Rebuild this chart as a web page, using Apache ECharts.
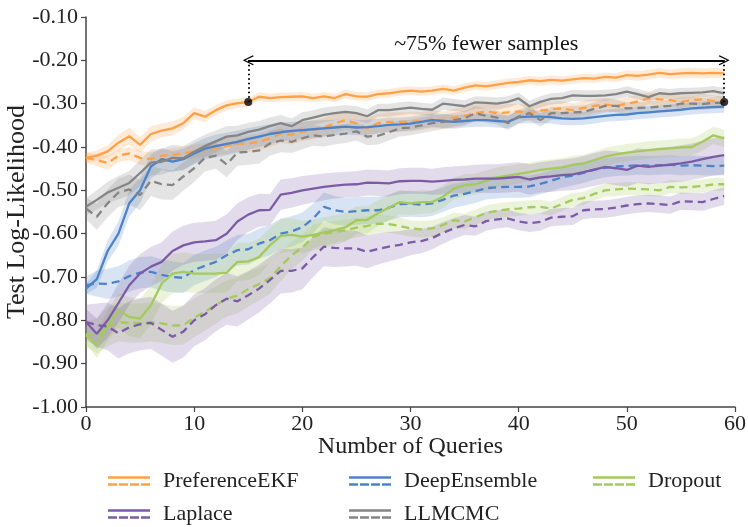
<!DOCTYPE html>
<html>
<head>
<meta charset="utf-8">
<script src="https://cdn.jsdelivr.net/npm/echarts@6/dist/echarts.min.js"></script>
<style>
  html, body { margin: 0; padding: 0; background: #ffffff; }
  #chart { width: 748px; height: 527px; }
</style>
</head>
<body>
<div id="chart"></div>
<script>
// Number of preference queries (x positions of every curve)
const queries = Array.from({ length: 60 }, (_, i) => i);

// Y axis ticks
const yMin = -1.0;
const yMax = -0.1;
const yStep = 0.1;

// Mean test log-likelihood per method (solid = first variant, dashed = second variant)
const prefEkf = [-0.425,-0.420,-0.410,-0.390,-0.375,-0.395,-0.370,-0.362,-0.357,-0.345,-0.322,-0.330,-0.315,-0.304,-0.299,-0.296,-0.284,-0.287,-0.285,-0.284,-0.283,-0.287,-0.283,-0.287,-0.278,-0.283,-0.284,-0.278,-0.276,-0.272,-0.270,-0.272,-0.270,-0.266,-0.270,-0.263,-0.258,-0.260,-0.256,-0.252,-0.250,-0.246,-0.248,-0.245,-0.247,-0.244,-0.241,-0.242,-0.238,-0.240,-0.234,-0.236,-0.233,-0.229,-0.232,-0.230,-0.229,-0.230,-0.229,-0.230];
const prefEkfB = [-0.425,-0.430,-0.437,-0.420,-0.415,-0.425,-0.428,-0.420,-0.418,-0.414,-0.410,-0.407,-0.402,-0.398,-0.393,-0.392,-0.388,-0.380,-0.370,-0.372,-0.365,-0.360,-0.355,-0.345,-0.338,-0.345,-0.357,-0.345,-0.342,-0.342,-0.342,-0.340,-0.336,-0.338,-0.332,-0.328,-0.322,-0.318,-0.322,-0.320,-0.318,-0.322,-0.316,-0.313,-0.311,-0.315,-0.310,-0.305,-0.302,-0.305,-0.300,-0.295,-0.288,-0.290,-0.292,-0.296,-0.292,-0.290,-0.294,-0.296];
const deepEns = [-0.727,-0.705,-0.640,-0.600,-0.530,-0.500,-0.445,-0.428,-0.434,-0.428,-0.415,-0.404,-0.398,-0.393,-0.388,-0.381,-0.376,-0.370,-0.366,-0.363,-0.361,-0.359,-0.357,-0.355,-0.353,-0.355,-0.354,-0.352,-0.349,-0.348,-0.346,-0.342,-0.338,-0.340,-0.342,-0.340,-0.338,-0.338,-0.340,-0.342,-0.331,-0.330,-0.330,-0.331,-0.334,-0.335,-0.334,-0.331,-0.328,-0.326,-0.325,-0.322,-0.320,-0.318,-0.316,-0.314,-0.311,-0.309,-0.308,-0.307];
const deepEnsB = [-0.719,-0.715,-0.716,-0.710,-0.698,-0.690,-0.688,-0.695,-0.700,-0.702,-0.684,-0.674,-0.665,-0.650,-0.638,-0.636,-0.623,-0.615,-0.600,-0.595,-0.585,-0.565,-0.538,-0.546,-0.550,-0.548,-0.546,-0.546,-0.540,-0.532,-0.531,-0.533,-0.530,-0.522,-0.512,-0.508,-0.502,-0.495,-0.493,-0.492,-0.492,-0.491,-0.485,-0.478,-0.470,-0.466,-0.460,-0.452,-0.448,-0.445,-0.444,-0.442,-0.443,-0.442,-0.441,-0.443,-0.442,-0.443,-0.444,-0.443];
const dropout = [-0.834,-0.857,-0.812,-0.777,-0.792,-0.796,-0.765,-0.715,-0.692,-0.688,-0.692,-0.692,-0.692,-0.690,-0.665,-0.664,-0.654,-0.627,-0.605,-0.603,-0.607,-0.603,-0.597,-0.592,-0.585,-0.569,-0.568,-0.553,-0.540,-0.527,-0.530,-0.527,-0.527,-0.515,-0.496,-0.488,-0.486,-0.478,-0.470,-0.466,-0.462,-0.458,-0.453,-0.450,-0.447,-0.441,-0.438,-0.430,-0.422,-0.417,-0.413,-0.410,-0.407,-0.405,-0.403,-0.401,-0.400,-0.388,-0.373,-0.380];
const dropoutB = [-0.832,-0.836,-0.815,-0.804,-0.806,-0.806,-0.804,-0.807,-0.812,-0.811,-0.794,-0.780,-0.765,-0.750,-0.743,-0.728,-0.716,-0.703,-0.675,-0.650,-0.632,-0.607,-0.600,-0.596,-0.592,-0.586,-0.582,-0.577,-0.578,-0.582,-0.588,-0.590,-0.588,-0.580,-0.569,-0.572,-0.562,-0.552,-0.547,-0.544,-0.542,-0.539,-0.538,-0.542,-0.532,-0.522,-0.518,-0.508,-0.500,-0.498,-0.496,-0.497,-0.498,-0.500,-0.492,-0.493,-0.492,-0.490,-0.486,-0.486];
const laplace = [-0.804,-0.831,-0.800,-0.760,-0.719,-0.692,-0.676,-0.665,-0.640,-0.627,-0.620,-0.618,-0.615,-0.600,-0.572,-0.556,-0.546,-0.545,-0.510,-0.506,-0.500,-0.496,-0.492,-0.489,-0.487,-0.486,-0.482,-0.483,-0.484,-0.479,-0.478,-0.478,-0.480,-0.478,-0.476,-0.475,-0.473,-0.473,-0.473,-0.471,-0.469,-0.475,-0.470,-0.468,-0.465,-0.463,-0.458,-0.452,-0.446,-0.449,-0.453,-0.443,-0.446,-0.443,-0.441,-0.438,-0.434,-0.428,-0.423,-0.419];
const laplaceB = [-0.804,-0.811,-0.814,-0.830,-0.816,-0.809,-0.806,-0.822,-0.838,-0.826,-0.800,-0.786,-0.765,-0.750,-0.756,-0.742,-0.727,-0.707,-0.686,-0.686,-0.680,-0.654,-0.630,-0.633,-0.634,-0.634,-0.642,-0.635,-0.630,-0.626,-0.620,-0.617,-0.610,-0.598,-0.588,-0.580,-0.583,-0.571,-0.567,-0.565,-0.572,-0.576,-0.573,-0.563,-0.561,-0.560,-0.546,-0.544,-0.543,-0.540,-0.535,-0.532,-0.530,-0.532,-0.534,-0.525,-0.526,-0.527,-0.520,-0.513];
const llmcmc = [-0.538,-0.522,-0.505,-0.494,-0.483,-0.460,-0.436,-0.434,-0.425,-0.426,-0.411,-0.398,-0.387,-0.376,-0.373,-0.365,-0.360,-0.352,-0.345,-0.352,-0.338,-0.332,-0.326,-0.322,-0.319,-0.322,-0.329,-0.315,-0.315,-0.312,-0.309,-0.312,-0.314,-0.300,-0.303,-0.306,-0.297,-0.298,-0.300,-0.296,-0.288,-0.306,-0.296,-0.289,-0.287,-0.281,-0.282,-0.282,-0.281,-0.278,-0.272,-0.278,-0.285,-0.276,-0.278,-0.276,-0.275,-0.274,-0.271,-0.276];
const llmcmcB = [-0.542,-0.561,-0.530,-0.505,-0.498,-0.511,-0.478,-0.486,-0.488,-0.468,-0.449,-0.425,-0.420,-0.440,-0.413,-0.411,-0.408,-0.392,-0.385,-0.388,-0.380,-0.373,-0.376,-0.372,-0.369,-0.364,-0.376,-0.374,-0.366,-0.357,-0.355,-0.350,-0.345,-0.342,-0.338,-0.334,-0.322,-0.328,-0.332,-0.345,-0.330,-0.322,-0.338,-0.322,-0.322,-0.320,-0.319,-0.312,-0.305,-0.305,-0.311,-0.310,-0.309,-0.307,-0.305,-0.300,-0.300,-0.301,-0.298,-0.298];

// Half-width of the shaded uncertainty band around each mean curve
const prefEkfSd = [0.012,0.012,0.014,0.018,0.020,0.018,0.018,0.016,0.016,0.015,0.014,0.013,0.012,0.012,0.011,0.011,0.010,0.010,0.010,0.010,0.010,0.010,0.010,0.010,0.010,0.010,0.010,0.010,0.010,0.010,0.010,0.010,0.010,0.010,0.010,0.010,0.010,0.010,0.010,0.010,0.010,0.010,0.010,0.010,0.010,0.010,0.010,0.010,0.010,0.010,0.011,0.011,0.011,0.011,0.011,0.012,0.012,0.012,0.012,0.012];
const prefEkfBSd = [0.012,0.014,0.016,0.015,0.015,0.016,0.016,0.015,0.015,0.015,0.016,0.016,0.017,0.018,0.018,0.019,0.020,0.020,0.021,0.022,0.022,0.022,0.022,0.022,0.022,0.024,0.024,0.022,0.022,0.022,0.022,0.021,0.021,0.020,0.020,0.020,0.020,0.019,0.019,0.019,0.018,0.018,0.018,0.017,0.017,0.016,0.016,0.016,0.015,0.015,0.015,0.015,0.014,0.014,0.014,0.014,0.013,0.013,0.013,0.013];
const deepEnsSd = [0.012,0.020,0.025,0.028,0.030,0.030,0.028,0.025,0.024,0.024,0.024,0.025,0.026,0.026,0.026,0.025,0.024,0.023,0.022,0.021,0.020,0.020,0.019,0.018,0.018,0.018,0.017,0.017,0.017,0.016,0.016,0.016,0.016,0.016,0.016,0.015,0.015,0.015,0.015,0.015,0.015,0.015,0.015,0.015,0.015,0.015,0.015,0.015,0.014,0.014,0.014,0.014,0.014,0.014,0.014,0.014,0.014,0.014,0.014,0.014];
const deepEnsBSd = [0.020,0.030,0.035,0.035,0.036,0.036,0.036,0.036,0.036,0.035,0.035,0.035,0.035,0.035,0.035,0.035,0.035,0.035,0.035,0.035,0.034,0.034,0.033,0.033,0.032,0.032,0.031,0.031,0.030,0.030,0.030,0.029,0.029,0.028,0.028,0.027,0.027,0.026,0.026,0.025,0.025,0.025,0.024,0.024,0.024,0.023,0.023,0.023,0.022,0.022,0.022,0.022,0.022,0.022,0.022,0.022,0.022,0.022,0.022,0.022];
const dropoutSd = [0.020,0.030,0.035,0.040,0.045,0.045,0.045,0.045,0.045,0.045,0.045,0.045,0.045,0.045,0.044,0.043,0.042,0.040,0.039,0.038,0.037,0.036,0.035,0.034,0.033,0.032,0.031,0.030,0.029,0.028,0.027,0.027,0.026,0.026,0.025,0.025,0.024,0.024,0.023,0.023,0.022,0.022,0.022,0.021,0.021,0.021,0.020,0.020,0.020,0.020,0.020,0.020,0.020,0.020,0.020,0.020,0.020,0.020,0.020,0.020];
const dropoutBSd = [0.030,0.040,0.045,0.045,0.045,0.045,0.045,0.045,0.045,0.045,0.045,0.044,0.043,0.042,0.041,0.040,0.038,0.036,0.034,0.032,0.030,0.028,0.026,0.025,0.024,0.023,0.022,0.021,0.020,0.020,0.019,0.019,0.019,0.018,0.018,0.018,0.018,0.017,0.017,0.017,0.017,0.016,0.016,0.016,0.016,0.016,0.015,0.015,0.015,0.015,0.015,0.015,0.015,0.015,0.015,0.015,0.015,0.015,0.015,0.015];
const laplaceSd = [0.030,0.035,0.040,0.045,0.045,0.045,0.045,0.045,0.045,0.045,0.045,0.045,0.045,0.045,0.042,0.040,0.038,0.036,0.035,0.034,0.033,0.032,0.031,0.030,0.030,0.030,0.030,0.030,0.030,0.030,0.030,0.030,0.030,0.031,0.031,0.032,0.032,0.033,0.033,0.034,0.034,0.035,0.035,0.036,0.036,0.037,0.037,0.038,0.038,0.039,0.039,0.040,0.040,0.041,0.041,0.042,0.042,0.043,0.043,0.044];
const laplaceBSd = [0.040,0.050,0.055,0.058,0.060,0.060,0.060,0.060,0.060,0.060,0.060,0.060,0.060,0.060,0.058,0.056,0.055,0.054,0.052,0.050,0.048,0.046,0.045,0.044,0.042,0.040,0.038,0.036,0.034,0.032,0.030,0.028,0.026,0.025,0.024,0.023,0.022,0.022,0.021,0.020,0.020,0.020,0.020,0.020,0.020,0.020,0.020,0.020,0.020,0.020,0.020,0.020,0.020,0.020,0.020,0.020,0.020,0.020,0.020,0.020];
const llmcmcSd = [0.020,0.022,0.025,0.027,0.028,0.030,0.030,0.030,0.030,0.028,0.027,0.026,0.025,0.024,0.022,0.021,0.020,0.020,0.019,0.018,0.018,0.017,0.017,0.016,0.016,0.016,0.016,0.015,0.015,0.015,0.014,0.014,0.014,0.014,0.014,0.014,0.014,0.014,0.014,0.013,0.013,0.013,0.013,0.013,0.013,0.013,0.013,0.013,0.013,0.012,0.012,0.012,0.012,0.012,0.012,0.012,0.012,0.012,0.012,0.012];
const llmcmcBSd = [0.025,0.030,0.032,0.033,0.034,0.035,0.035,0.035,0.034,0.033,0.032,0.031,0.030,0.030,0.030,0.030,0.030,0.028,0.027,0.026,0.025,0.024,0.023,0.022,0.022,0.021,0.020,0.020,0.019,0.019,0.018,0.018,0.018,0.017,0.017,0.017,0.016,0.016,0.016,0.016,0.016,0.015,0.015,0.015,0.015,0.015,0.015,0.015,0.015,0.014,0.014,0.014,0.014,0.014,0.014,0.014,0.014,0.014,0.014,0.014];

// Method names and their colours
const methods = ['PreferenceEKF', 'DeepEnsemble', 'Dropout', 'Laplace', 'LLMCMC'];
const colors = {
  PreferenceEKF: '#ffa147',
  DeepEnsemble: '#4e82c8',
  Dropout: '#a4c95c',
  Laplace: '#7c5ba6',
  LLMCMC: '#858585'
};

// Sample-efficiency annotation
const annotationText = '~75% fewer samples';
const arrowLevel = -0.20;
const arrowFrom = 15;
const arrowTo = 59;

const curves = [
  { name: 'PreferenceEKF', mean: prefEkf, sd: prefEkfSd, dashed: false },
  { name: 'PreferenceEKF', mean: prefEkfB, sd: prefEkfBSd, dashed: true },
  { name: 'DeepEnsemble', mean: deepEns, sd: deepEnsSd, dashed: false },
  { name: 'DeepEnsemble', mean: deepEnsB, sd: deepEnsBSd, dashed: true },
  { name: 'Dropout', mean: dropout, sd: dropoutSd, dashed: false },
  { name: 'Dropout', mean: dropoutB, sd: dropoutBSd, dashed: true },
  { name: 'Laplace', mean: laplace, sd: laplaceSd, dashed: false },
  { name: 'Laplace', mean: laplaceB, sd: laplaceBSd, dashed: true },
  { name: 'LLMCMC', mean: llmcmc, sd: llmcmcSd, dashed: false },
  { name: 'LLMCMC', mean: llmcmcB, sd: llmcmcBSd, dashed: true }
];

const FONT = 'Liberation Serif';
const series = [];

// Shaded bands: one polygon per curve, mean ± half-width, projected through the axes
curves.forEach((c, k) => {
  const col = colors[c.name];
  const lo = c.mean.map((m, i) => m - c.sd[i]);
  const hi = c.mean.map((m, i) => m + c.sd[i]);
  series.push({
    type: 'custom', name: 'band-' + k, silent: true, z: 1,
    data: queries.map((q, i) => [q, lo[i], hi[i]]),
    encode: { x: 0, y: [1, 2] },
    renderItem: (params, api) => {
      if (params.dataIndex !== 0) return { type: 'group', children: [] };
      const pts = [];
      for (let i = 0; i < queries.length; i++) pts.push(api.coord([queries[i], lo[i]]));
      for (let i = queries.length - 1; i >= 0; i--) pts.push(api.coord([queries[i], hi[i]]));
      return {
        type: 'polygon', shape: { points: pts },
        style: { fill: col, opacity: 0.22, stroke: null }
      };
    }
  });
});

// Mean curves
curves.forEach((c) => {
  const col = colors[c.name];
  series.push({
    type: 'line', name: c.name,
    data: queries.map((q, i) => [q, c.mean[i]]),
    symbol: 'none', silent: true, z: 3,
    itemStyle: { color: col },
    lineStyle: { color: col, width: 2.3, type: c.dashed ? [8, 5] : 'solid' }
  });
});

// Annotation: dots, dotted drops and double arrow
const chevron = 'path://M0,10 L5,0 L10,10 L9,10.8 L5,2.6 L1,10.8 Z';
series.push({
  type: 'scatter', name: 'annotation', silent: true, z: 6,
  data: [[arrowFrom, prefEkf[arrowFrom]], [arrowTo, prefEkfB[arrowTo]]],
  symbolSize: 8, itemStyle: { color: '#000' },
  markLine: {
    silent: true, animation: false, precision: 3,
    data: [
      [
        { coord: [arrowFrom, arrowLevel], symbol: chevron, symbolSize: [10, 11],
          lineStyle: { color: '#000', width: 1.8, type: 'solid' },
          label: { show: true, position: 'insideMiddleTop', formatter: annotationText,
                   fontFamily: FONT, fontSize: 22, color: '#111', distance: 5 } },
        { coord: [arrowTo, arrowLevel], symbol: chevron, symbolSize: [10, 11] }
      ],
      [
        { coord: [arrowFrom, arrowLevel], symbol: 'none',
          lineStyle: { color: '#000', width: 2, type: [1.5, 3] }, label: { show: false } },
        { coord: [arrowFrom, prefEkf[arrowFrom]], symbol: 'none' }
      ],
      [
        { coord: [arrowTo, arrowLevel], symbol: 'none',
          lineStyle: { color: '#000', width: 2, type: [1.5, 3] }, label: { show: false } },
        { coord: [arrowTo, prefEkfB[arrowTo]], symbol: 'none' }
      ]
    ]
  }
});

// Legend icon: a solid stroke over a dashed stroke
const legendIcon = 'path://M0,0H42V2.6H0Z M0,7H9V9.6H0Z M11,7H20V9.6H11Z M22,7H31V9.6H22Z M33,7H42V9.6H33Z';
const legendPos = [
  { left: 103, top: 465 },
  { left: 344, top: 465 },
  { left: 588, top: 465 },
  { left: 103, top: 498 },
  { left: 344, top: 498 }
];
const legends = methods.map((m, i) => ({
  data: [{ name: m, icon: legendIcon, itemStyle: { color: colors[m] } }],
  left: legendPos[i].left, top: legendPos[i].top,
  itemWidth: 42, itemHeight: 10, selectedMode: false,
  textStyle: { fontFamily: FONT, fontSize: 22, color: '#222', padding: [0, 0, 0, 8] }
}));

const chart = echarts.init(document.getElementById('chart'), null, { renderer: 'canvas' });
chart.setOption({
  animation: false,
  backgroundColor: '#ffffff',
  textStyle: { fontFamily: FONT },
  grid: { left: 86, right: 13, top: 17, bottom: 120, containLabel: false, outerBoundsMode: 'none' },
  legend: legends,
  xAxis: {
    type: 'value', min: 0, max: 60, interval: 10,
    name: 'Number of Queries', nameLocation: 'middle', nameGap: 28, nameMoveOverlap: false,
    nameTextStyle: { fontFamily: FONT, fontSize: 24, color: '#222' },
    axisLine: { lineStyle: { color: '#444', width: 1.5 } },
    axisTick: { show: true, length: 5, lineStyle: { color: '#444', width: 1.2 } },
    axisLabel: { fontFamily: FONT, fontSize: 22, color: '#222', margin: 6 },
    splitLine: { show: false }
  },
  yAxis: {
    type: 'value', min: yMin, max: yMax, interval: yStep,
    name: 'Test Log-Likelihood', nameLocation: 'middle', nameGap: 56, nameMoveOverlap: false,
    nameTextStyle: { fontFamily: FONT, fontSize: 26, color: '#222' },
    axisLine: { show: true, lineStyle: { color: '#444', width: 1.5 } },
    axisTick: { show: true, length: 5, lineStyle: { color: '#444', width: 1.2 } },
    axisLabel: { fontFamily: FONT, fontSize: 22, color: '#222', margin: 8,
                 formatter: (v) => v.toFixed(2) },
    splitLine: { show: false }
  },
  series: series
});
</script>
</body>
</html>
